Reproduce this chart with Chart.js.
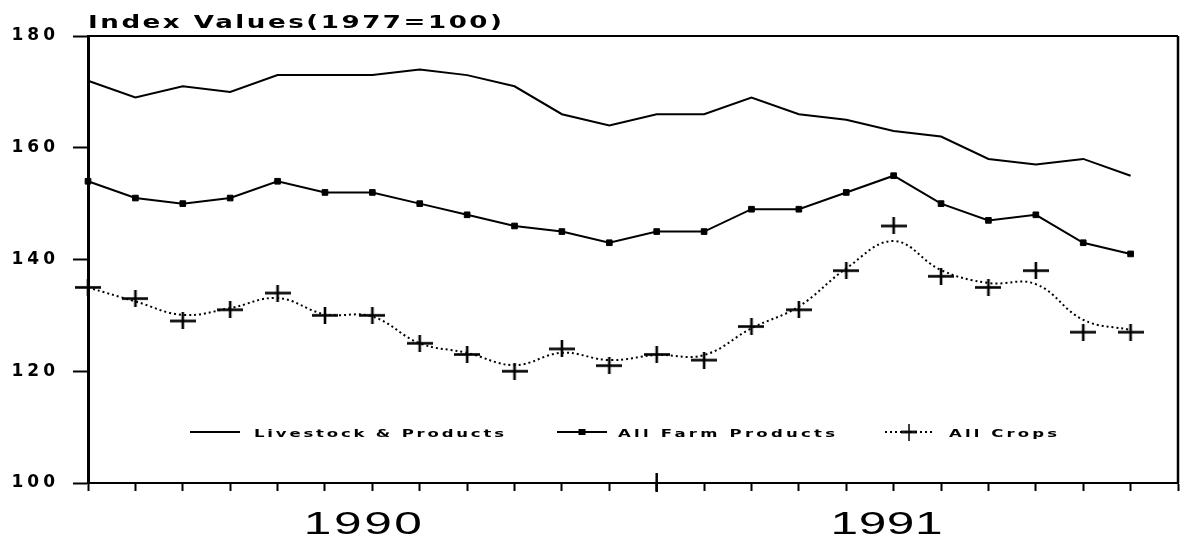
<!DOCTYPE html>
<html><head><meta charset="utf-8">
<script src="https://cdn.jsdelivr.net/npm/chart.js@4.4.1/dist/chart.umd.min.js"></script>
<style>html,body{margin:0;padding:0;background:#fff;}canvas{display:block;}</style>
</head><body>
<canvas id="c" width="1189" height="543"></canvas>
<script>
// ---- data ----
const months = ['Jan 1990','Feb 1990','Mar 1990','Apr 1990','May 1990','Jun 1990','Jul 1990','Aug 1990','Sep 1990','Oct 1990','Nov 1990','Dec 1990',
                'Jan 1991','Feb 1991','Mar 1991','Apr 1991','May 1991','Jun 1991','Jul 1991','Aug 1991','Sep 1991','Oct 1991','Nov 1991','Dec 1991'];
const years = ['1990', '1991'];
const yTicks = [100, 120, 140, 160, 180];
const titleText = 'Index Values(1977=100)';
const seriesNames = ['Livestock & Products', 'All Farm Products', 'All Crops'];
const livestock = [172,169,171,170,173,173,173,174,173,171,166,164,166,166,169,166,165,163,162,158,157,158,155];
const farmProducts = [154,151,150,151,154,152,152,150,148,146,145,143,145,145,149,149,152,155,150,147,148,143,141];
const allCrops = [135,133,129,131,134,130,130,125,123,120,124,121,123,122,128,131,138,146,137,135,138,127,127];
const allCropsTrend = [135,132.5,130.1,131.3,133.1,130.2,129.8,125,123.3,121.1,123.3,122,122.9,122.9,127.7,131.6,138.4,143.3,138.1,135.8,135.6,129.2,127.4];

// ---- marker ----
function plusMarker(w, h, lw) {
  const c = document.createElement('canvas');
  c.width = w; c.height = h;
  const g = c.getContext('2d');
  g.fillStyle = '#000';
  g.fillRect(0, (h - lw) / 2, w, lw);
  g.fillRect((w - lw) / 2, 0, lw, h);
  return c;
}
const plusImg = plusMarker(26, 17, 2.6);

function drawFit(ctx, text, x, y, font, sx, targetW, align) {
  ctx.save();
  ctx.font = font;
  const hasLS = ('letterSpacing' in ctx);
  if (hasLS) ctx.letterSpacing = '0px';
  const w = ctx.measureText(text).width;
  const n = text.length;
  let ls = n > 1 ? (targetW / sx - w) / (n - 1) : 0;
  if (ls < 0) ls = 0;
  const total = (w + ls * (n - 1)) * sx;
  const x0 = align === 'center' ? x - total / 2 : (align === 'right' ? x - total : x);
  ctx.translate(x0, y);
  ctx.scale(sx, 1);
  ctx.fillStyle = '#000';
  ctx.textAlign = 'left';
  ctx.textBaseline = 'alphabetic';
  if (hasLS) { ctx.letterSpacing = ls + 'px'; ctx.fillText(text, 0, 0); }
  else { let cx = 0; for (const ch of text) { ctx.fillText(ch, cx, 0); cx += ctx.measureText(ch).width + ls; } }
  ctx.restore();
}

const framePlugin = {
  id: 'frame',
  beforeDraw(chart) {
    const ys = chart.scales.y;
    if (ys && !ys._lsPatched) {
      const orig = ys.drawLabels;
      ys.drawLabels = function (area) {
        const ctx = this.ctx;
        ctx.save();
        if ('letterSpacing' in ctx) ctx.letterSpacing = '4px';
        orig.call(this, area);
        ctx.restore();
      };
      ys._lsPatched = true;
    }
  },
  afterDraw(chart) {
    const ctx = chart.ctx;
    const a = chart.chartArea;
    const xs = chart.scales.x;
    ctx.save();
    ctx.strokeStyle = '#000';
    ctx.lineWidth = 2;
    ctx.beginPath();
    ctx.moveTo(a.left, a.top); ctx.lineTo(a.right, a.top);
    ctx.stroke();
    ctx.lineWidth = 2.5;
    ctx.beginPath();
    ctx.moveTo(a.right, a.top); ctx.lineTo(a.right, a.bottom);
    ctx.stroke();
    const xd = xs.getPixelForValue(12);
    ctx.lineWidth = 2.5;
    ctx.beginPath();
    ctx.moveTo(xd, a.bottom - 10); ctx.lineTo(xd, a.bottom + 9);
    ctx.stroke();
    ctx.restore();

    drawFit(ctx, titleText, a.left, 28, 'bold 18px "DejaVu Sans"', 1.45, 414, 'left');

    const yearPos = [5.8, 16.85];
    const yearW = [118, 112];
    years.forEach((t, i) => {
      drawFit(ctx, t, xs.getPixelForValue(yearPos[i]), 534, '31px "Liberation Sans"', 1.6, yearW[i], 'center');
    });

    const ly = 432;
    const items = [
      {x0: 190, x1: 240, tx: 254, tw: 250, ds: 0, marker: null},
      {x0: 557, x1: 607, tx: 618, tw: 217, ds: 1, marker: 'rect'},
      {x0: 885, x1: 933, tx: 949, tw: 108, ds: 2, marker: 'plus'}
    ];
    items.forEach(it => {
      const d = chart.data.datasets[it.ds];
      ctx.save();
      ctx.strokeStyle = '#000';
      ctx.lineWidth = d.borderWidth;
      ctx.setLineDash(d.borderDash || []);
      ctx.beginPath();
      ctx.moveTo(it.x0, ly); ctx.lineTo(it.x1, ly);
      ctx.stroke();
      ctx.setLineDash([]);
      const mx = (it.x0 + it.x1) / 2;
      if (it.marker === 'rect') {
        ctx.fillStyle = '#000';
        ctx.fillRect(mx - 3.5, ly - 3, 7, 6);
      } else if (it.marker === 'plus') {
        const w = plusImg.width * 0.6;
        ctx.drawImage(plusImg, mx - w / 2, ly - plusImg.height / 2, w, plusImg.height);
      }
      ctx.restore();
      drawFit(ctx, seriesNames[it.ds], it.tx, ly + 5, 'bold 11px "DejaVu Sans"', 1.5, it.tw, 'left');
    });
  }
};

new Chart(document.getElementById('c'), {
  type: 'line',
  data: {
    labels: months,
    datasets: [
      {label: seriesNames[0], data: livestock, borderColor: '#000', borderWidth: 2, pointRadius: 0, tension: 0, fill: false},
      {label: seriesNames[1], data: farmProducts, borderColor: '#000', borderWidth: 2, pointStyle: 'rect', pointRadius: 4,
       pointBackgroundColor: '#000', pointBorderColor: '#000', pointBorderWidth: 1, tension: 0, fill: false},
      {label: seriesNames[2], data: allCropsTrend, borderColor: '#000', borderWidth: 2, borderDash: [2, 3], pointRadius: 0, tension: 0.4, fill: false},
      {label: seriesNames[2] + ' (monthly)', data: allCrops, showLine: false, pointStyle: plusImg, pointRadius: 10,
       borderColor: '#000', backgroundColor: '#000', clip: false}
    ]
  },
  options: {
    responsive: false,
    animation: false,
    events: [],
    layout: {padding: {top: 36, right: 4, left: 0, bottom: 0}},
    plugins: {legend: {display: false}, tooltip: {enabled: false}, title: {display: false}},
    scales: {
      x: {
        type: 'category', offset: false,
        grid: {drawOnChartArea: false, offset: false, tickLength: 8, tickWidth: 2, tickColor: '#000'},
        border: {display: true, color: '#000', width: 2},
        ticks: {display: false, autoSkip: false},
        afterFit(s) { s.height = 60; }
      },
      y: {
        min: 100, max: 180,
        afterBuildTicks(s) { s.ticks = yTicks.map(v => ({value: v})); },
        ticks: {font: {family: 'DejaVu Sans', weight: 'bold', size: 17}, color: '#000', padding: 14},
        grid: {drawOnChartArea: false, tickLength: 15, tickWidth: 2, tickColor: '#000'},
        border: {display: true, color: '#000', width: 3},
        afterFit(s) { s.width = 88; }
      }
    }
  },
  plugins: [framePlugin]
});
</script>
</body></html>
